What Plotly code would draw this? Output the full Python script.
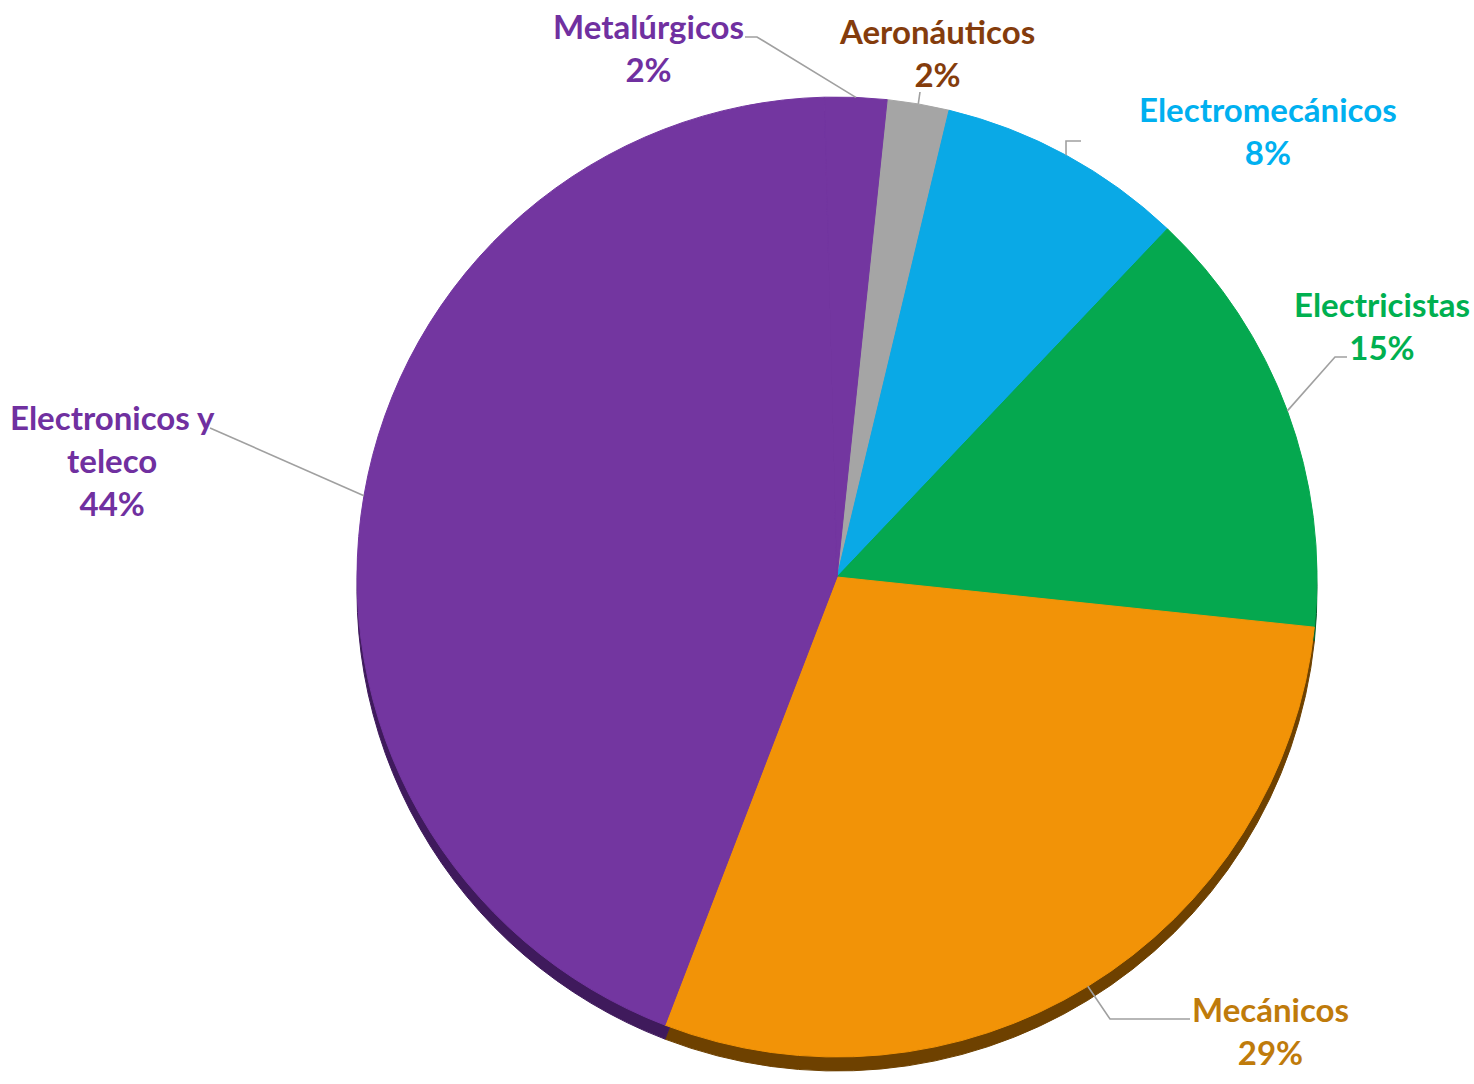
import math
import plotly.graph_objects as go

# ---- data (clockwise order, starting near 12 o'clock) ----
categories = ["Aeronáuticos", "Electromecánicos", "Electricistas", "Mecánicos",
              "Electronicos y<br>teleco", "Metalúrgicos"]
counts = [1, 4, 7, 14, 21, 1]
pct_labels = ["2%", "8%", "15%", "29%", "44%", "2%"]

# ---- styles ----
slice_colors = ["#A5A5A5", "#0AA9E6", "#05A84F", "#F29307", "#7336A0", "#7336A0"]
edge_colors = ["#5E5E5E", "#05668A", "#03602C", "#6E4100", "#3F1A5C", "#3F1A5C"]
label_colors = ["#843C0C", "#00B0F0", "#00B050", "#BF7B0B", "#7030A0", "#7030A0"]

W, H = 1474, 1084
CX, CY, R = 837, 577, 480
ROT = 6
EDGE = 14

# label block centres (px) and leader-line text-side points (px)
label_xy = [(937, 52), (1268, 130), (1382, 325), (1270, 1030), (112, 460), (648, 47)]
leader_pts = [[(920, 92)],
              [(1081, 141), (1066, 141)],
              [(1347, 357), (1335, 357)],
              [(1190, 1019), (1110, 1019)],
              [(210, 428)],
              [(745, 37), (757, 37)]]


def px_to_paper(x, y):
    return x / W, 1 - y / H


def dom(cy):
    return dict(x=[(CX - R) / W, (CX + R) / W],
                y=[(H - cy - R) / H, (H - cy + R) / H])


fig = go.Figure()
# 3D edge (darker copy slightly lower)
fig.add_trace(go.Pie(values=counts, labels=categories, sort=False, direction="clockwise",
                     rotation=ROT,
                     marker=dict(colors=edge_colors, line=dict(width=1, color=edge_colors)),
                     textinfo="none", hoverinfo="skip", showlegend=False,
                     domain=dom(CY + EDGE)))
fig.add_trace(go.Pie(values=counts, labels=categories, sort=False, direction="clockwise",
                     rotation=ROT,
                     marker=dict(colors=slice_colors, line=dict(width=1, color=slice_colors)),
                     textinfo="none", hoverinfo="label+percent", showlegend=False,
                     domain=dom(CY)))

total = sum(counts)
angle = ROT
shapes, annotations = [], []
for i, v in enumerate(counts):
    span = v / total * 360
    mid = math.radians(angle + span / 2)
    angle += span
    ax, ay = CX + R * math.sin(mid), CY - R * math.cos(mid)
    pts = leader_pts[i] + [(ax, ay)]
    path = ""
    for j, (x, y) in enumerate(pts):
        px, py = px_to_paper(x, y)
        path += ("M" if j == 0 else "L") + f"{px},{py} "
    shapes.append(dict(type="path", xref="paper", yref="paper", path=path.strip(),
                       line=dict(color="#A0A0A0", width=1.6)))
    lx, ly = px_to_paper(*label_xy[i])
    annotations.append(dict(x=lx, y=ly, xref="paper", yref="paper", showarrow=False,
                            text=f"{categories[i]}<br>{pct_labels[i]}",
                            align="center", xanchor="center", yanchor="middle",
                            font=dict(family="Lato", size=33, color=label_colors[i],
                                      weight="bold")))

fig.update_layout(width=W, height=H, margin=dict(l=0, r=0, t=0, b=0),
                  paper_bgcolor="white", plot_bgcolor="white",
                  shapes=shapes, annotations=annotations, showlegend=False)
fig.write_html("out.html", config={"displayModeBar": False},
               post_script="document.body.style.margin='0';")
